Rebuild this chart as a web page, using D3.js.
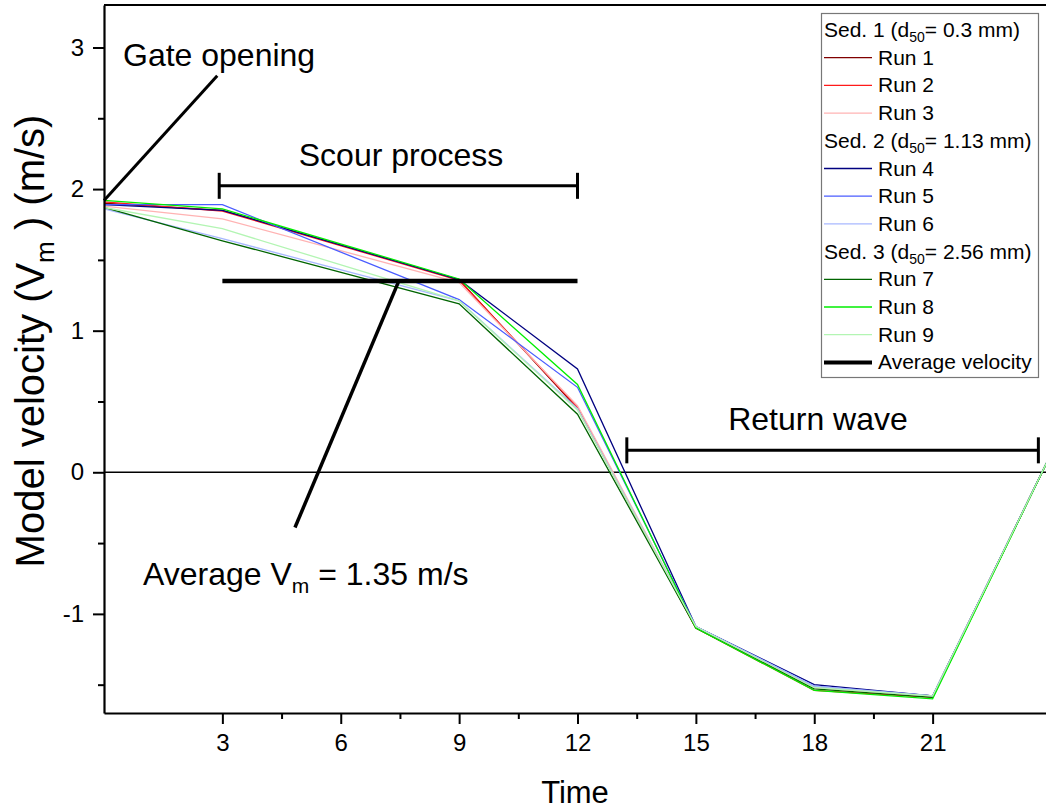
<!DOCTYPE html>
<html>
<head>
<meta charset="utf-8">
<script src="https://cdn.jsdelivr.net/npm/d3@7"></script>
<style>
  body { margin: 0; background: #fff; }
  text { font-family: Arial, "Liberation Sans", sans-serif; fill: #000; }
</style>
</head>
<body>
<div class="container"></div>
<script>
// times where the runs were sampled
const times = [0, 3, 9, 12, 15, 18, 21, 24]

// Sed. 1
const run1 = [1.90, 1.85, 1.36, 0.45, -1.10, -1.52, -1.58, 0.13]
const run2 = [1.91, 1.845, 1.355, 0.46, -1.10, -1.54, -1.59, 0.13]
const run3 = [1.88, 1.79, 1.34, 0.47, -1.09, -1.52, -1.58, 0.13]
// Sed. 2
const run4 = [1.89, 1.85, 1.36, 0.73, -1.09, -1.50, -1.58, 0.13]
const run5 = [1.89, 1.89, 1.22, 0.60, -1.09, -1.51, -1.58, 0.13]
const run6 = [1.86, 1.65, 1.21, 0.45, -1.09, -1.51, -1.58, 0.13]
// Sed. 3
const run7 = [1.87, 1.635, 1.19, 0.41, -1.10, -1.53, -1.59, 0.13]
const run8 = [1.92, 1.86, 1.365, 0.62, -1.10, -1.54, -1.60, 0.13]
const run9 = [1.87, 1.72, 1.21, 0.44, -1.09, -1.52, -1.58, 0.13]

const runNames = ["Run 1", "Run 2", "Run 3", "Run 4", "Run 5", "Run 6", "Run 7", "Run 8", "Run 9"]
const sedNames = ["Sed. 1", "Sed. 2", "Sed. 3"]
const sedD50 = ["0.3", "1.13", "2.56"]

const avgVelocity = 1.35
const scourStart = 3, scourEnd = 12
const returnStart = 13.25, returnEnd = 23.68

const xTicks = [3, 6, 9, 12, 15, 18, 21]
const xMinor = [4.5, 7.5, 10.5, 13.5, 16.5, 19.5]
const yTicks = [-1, 0, 1, 2, 3]
const yMinor = [-1.5, -0.5, 0.5, 1.5, 2.5]

const runs = [run1, run2, run3, run4, run5, run6, run7, run8, run9]
const colors = ["#800000", "#ff1a1a", "#ffb3b3", "#000080", "#4a5cff", "#a8b8ff", "#006400", "#00ee00", "#b3f5b3"]

const w = 1046
const h = 812

const x = d3.scaleLinear().domain([0, 24]).range([104, 1051])
const y = d3.scaleLinear().domain([-1.7, 3.3]).range([713, 5])

const svg = d3.select(".container")
  .append("svg")
  .attr("width", w)
  .attr("height", h)

// frame top
svg.append("line")
  .attr("x1", x(0)).attr("x2", w)
  .attr("y1", y(3.3)).attr("y2", y(3.3))
  .attr("stroke", "#000").attr("stroke-width", 2)

// zero line
svg.append("line")
  .attr("x1", x(0)).attr("x2", w)
  .attr("y1", y(0)).attr("y2", y(0))
  .attr("stroke", "#000").attr("stroke-width", 1.6)

const line = d3.line()
  .x((d, i) => x(times[i]))
  .y(d => y(d))

svg.selectAll(".run")
  .data(runs)
  .enter()
  .append("path")
  .attr("class", "run")
  .attr("d", d => line(d))
  .attr("fill", "none")
  .attr("stroke", (d, i) => colors[i])
  .attr("stroke-width", 1.3)

// average velocity bar
svg.append("line")
  .attr("x1", x(scourStart)).attr("x2", x(scourEnd))
  .attr("y1", y(avgVelocity)).attr("y2", y(avgVelocity))
  .attr("stroke", "#000").attr("stroke-width", 4.5)

// axes
const yAxis = d3.axisLeft(y).tickValues(yTicks).tickSize(11).tickSizeOuter(0).tickPadding(9)
  .tickFormat(d => String(d))
const yAxisMinor = d3.axisLeft(y).tickValues(yMinor).tickSize(6).tickFormat("")
const xAxis = d3.axisBottom(x).tickValues(xTicks).tickSize(11).tickSizeOuter(0).tickPadding(10)
  .tickFormat(d => String(d))
const xAxisMinor = d3.axisBottom(x).tickValues(xMinor).tickSize(6).tickFormat("")

svg.append("g").attr("transform", "translate(" + x(0) + ",0)").call(yAxisMinor)
  .call(g => g.select(".domain").remove())
svg.append("g").attr("transform", "translate(0," + y(-1.7) + ")").call(xAxisMinor)
  .call(g => g.select(".domain").remove())
const gy = svg.append("g").attr("transform", "translate(" + x(0) + ",0)").call(yAxis)
const gx = svg.append("g").attr("transform", "translate(0," + y(-1.7) + ")").call(xAxis)

svg.selectAll(".tick line").attr("stroke-width", 2)
svg.selectAll(".domain").attr("stroke-width", 2.2)
gy.selectAll("text").attr("font-size", 24).attr("font-family", "Arial, 'Liberation Sans', sans-serif")
gx.selectAll("text").attr("font-size", 24).attr("font-family", "Arial, 'Liberation Sans', sans-serif")

// axis titles
svg.append("text")
  .attr("x", 575).attr("y", 803)
  .attr("text-anchor", "middle")
  .attr("font-size", 31)
  .text("Time")

const yt = svg.append("text")
  .attr("transform", "translate(44," + 341 + ") rotate(-90)")
  .attr("text-anchor", "middle")
  .attr("font-size", 40)
yt.append("tspan").text("Model velocity (V")
yt.append("tspan").attr("font-size", 26).attr("dy", 10).text("m")
yt.append("tspan").attr("dy", -10).text(" ) (m/s)")

// Gate opening
svg.append("line")
  .attr("x1", x(0)).attr("y1", y(1.92))
  .attr("x2", x(2.87)).attr("y2", y(2.80))
  .attr("stroke", "#000").attr("stroke-width", 3)
svg.append("text")
  .attr("x", 123).attr("y", 66)
  .attr("font-size", 32)
  .text("Gate opening")

// brackets for scour / return wave
function bracket(t0, t1, v, label, cx) {
  const g = svg.append("g")
  g.append("line")
    .attr("x1", x(t0)).attr("x2", x(t1))
    .attr("y1", y(v)).attr("y2", y(v))
    .attr("stroke", "#000").attr("stroke-width", 3)
  ;[t0, t1].forEach(t => {
    g.append("line")
      .attr("x1", x(t)).attr("x2", x(t))
      .attr("y1", y(v) - 13).attr("y2", y(v) + 13)
      .attr("stroke", "#000").attr("stroke-width", 3)
  })
  g.append("text")
    .attr("x", cx).attr("y", y(v) - 20)
    .attr("text-anchor", "middle")
    .attr("font-size", 32)
    .text(label)
}
bracket(2.92, scourEnd, 2.023, "Scour process", 401)
bracket(returnStart, returnEnd, 0.155, "Return wave", 818)

// Average Vm pointer
svg.append("line")
  .attr("x1", x(7.46)).attr("y1", y(avgVelocity) + 1)
  .attr("x2", x(4.84)).attr("y2", y(-0.39))
  .attr("stroke", "#000").attr("stroke-width", 3.5)
const at = svg.append("text")
  .attr("x", 143).attr("y", 585)
  .attr("font-size", 32)
at.append("tspan").text("Average V")
at.append("tspan").attr("font-size", 21).attr("dy", 8).text("m")
at.append("tspan").attr("dy", -8).text(" = " + avgVelocity.toFixed(2) + " m/s")

// legend
const lg = svg.append("g")
lg.append("rect")
  .attr("x", 821.5).attr("y", 13.5)
  .attr("width", 217).attr("height", 364)
  .attr("fill", "#fff").attr("stroke", "#777").attr("stroke-width", 1.2)

const rows = []
sedNames.forEach((s, k) => {
  rows.push({ head: s, d50: sedD50[k] })
  for (let j = 0; j < 3; j++) rows.push({ run: k * 3 + j })
})
rows.push({ avg: true })

rows.forEach((r, i) => {
  const cy = 30 + i * 27.7
  if (r.head) {
    const t = lg.append("text").attr("x", 824).attr("y", cy + 7).attr("font-size", 21)
    t.append("tspan").text(r.head + " (d")
    t.append("tspan").attr("font-size", 14).attr("dy", 5).text("50")
    t.append("tspan").attr("dy", -5).text("= " + r.d50 + " mm)")
  } else {
    lg.append("line")
      .attr("x1", 824).attr("x2", 872)
      .attr("y1", cy).attr("y2", cy)
      .attr("stroke", r.avg ? "#000" : colors[r.run])
      .attr("stroke-width", r.avg ? 4 : 1.3)
    lg.append("text").attr("x", 878).attr("y", cy + 7).attr("font-size", 21)
      .text(r.avg ? "Average velocity" : runNames[r.run])
  }
})
</script>
</body>
</html>
